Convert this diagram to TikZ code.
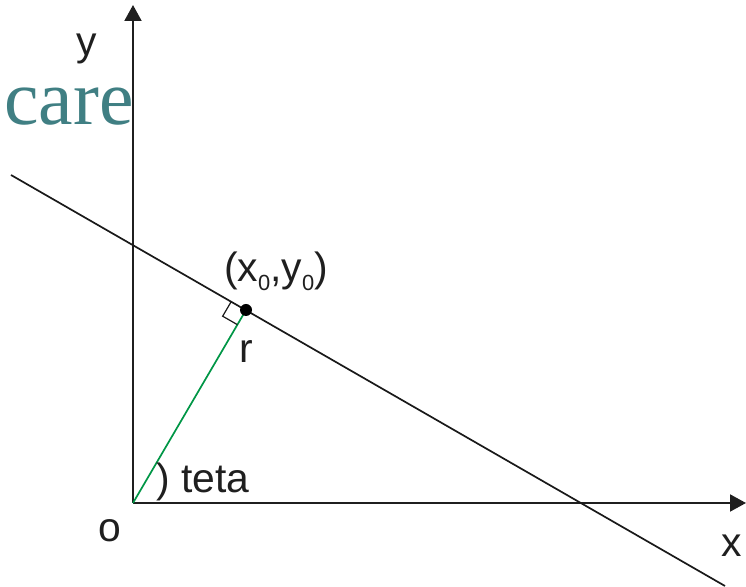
\documentclass[tikz,border=0pt]{standalone}
\usepackage{fontspec}
\setmainfont{Liberation Sans}
\newfontfamily\carefont{Liberation Serif}
\usetikzlibrary{arrows.meta,positioning,calc}
\definecolor{careteal}{RGB}{64,127,131}
\definecolor{rgreen}{RGB}{0,150,70}
\newcommand{\lowsub}[1]{\raisebox{-0.21em}{\fontsize{22}{22}\selectfont #1}}

\begin{document}
\begin{tikzpicture}[x=1bp,y=1bp,
  lbl/.style={font=\fontsize{41}{49}\selectfont, text=black!88, inner sep=0pt, anchor=base},
  axis/.style={-{Triangle[length=16bp,width=17bp]}, line width=2bp, draw=black!88},
  hline/.style={line width=1.7bp, draw=black!90},
  rline/.style={line width=1.7bp, draw=rgreen},
  ramark/.style={line width=1.2bp, draw=black!90},
]
\useasboundingbox (-133,-84) rectangle (613,503);

% --- points: origin, axis tips, the line and the foot point ---
\def\xFoot{113}\def\yFoot{193}
\coordinate (O) at (0,0);
\coordinate (ytip) at (0,498);
\coordinate (xtip) at (613,0);
\coordinate (lineL) at (-122,328);
\coordinate (lineR) at (592,-83);
\coordinate (foot) at (\xFoot,\yFoot);

% --- axes ---
\draw[axis] (O) -- (ytip);
\draw[axis] (O) -- (xtip);

% --- the line and the normal r ---
\draw[hline] (lineL) -- (lineR);
\draw[rline] (O) -- (foot);

% --- right angle mark at the foot ---
\coordinate (ra1) at ($(foot)!17bp!(lineL)$);
\coordinate (ra2) at ($(foot)!17bp!(O)$);
\coordinate (raC) at ($(ra1)+(ra2)-(foot)$);
\draw[ramark] (ra1) -- (raC) -- (ra2);
\fill[black] (foot) circle (6bp);

% --- labels ---
\node[lbl] (ylbl) at (-46,447) {y};
\node[lbl] (xlbl) at (599,-54) {x};
\node[lbl] (olbl) at (-23,-39) {o};
\node[lbl] (ptlbl) at (143,221) {(x\lowsub{0},y\lowsub{0})};
\node[lbl] (rlbl) at (\xFoot,140) {r};
\node[lbl, anchor=base west] (tetalbl) at (23,10) {) teta};
\node[font=\carefont\fontsize{78}{90}\selectfont, text=careteal, inner sep=0pt, anchor=base west] (care) at (-129,378) {care};

\end{tikzpicture}
\end{document}
